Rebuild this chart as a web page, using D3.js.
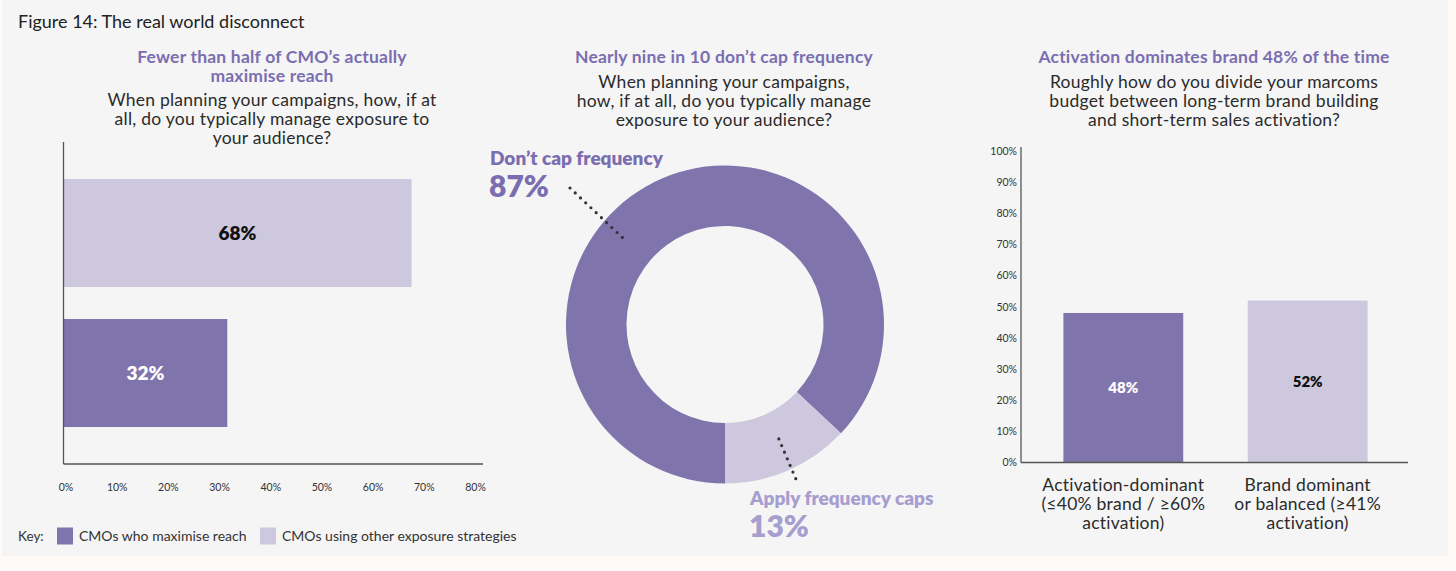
<!DOCTYPE html>
<html>
<head>
<meta charset="utf-8">
<script src="https://cdn.jsdelivr.net/npm/d3@7"></script>
<style>
  body { margin: 0; background: #fdfaf7; }
  text { font-family: Lato, "Open Sans", sans-serif; }
  .title { font-weight: 700; fill: #7a6eb1; font-size: 17.5px; letter-spacing: 0.2px; }
  .question { fill: #2b2b2b; font-size: 17.5px; font-weight: 400; letter-spacing: 0.25px; }
  .tick-label { fill: #333; font-size: 10.5px; }
  .axis-line { stroke: #555; stroke-width: 1.3; }
</style>
</head>
<body>
<script>
const WIDTH = 1456
const HEIGHT = 571
const DARK = "#7f74ab"
const LIGHT = "#cdc8de"

// left chart: exposure management
const reachCategories = ["CMOs using other exposure strategies", "CMOs who maximise reach"]
const reachValues = [68, 32]
const reachTicks = [0, 10, 20, 30, 40, 50, 60, 70, 80]

// middle chart: frequency caps
const capLabels = ["Don\u2019t cap frequency", "Apply frequency caps"]
const capValues = [87, 13]

// right chart: brand vs activation budget
const budgetCategories = [
    ["Activation-dominant", "(\u226440% brand / \u226560%", "activation)"],
    ["Brand dominant", "or balanced (\u226541%", "activation)"]
]
const budgetValues = [48, 52]
const budgetTicks = [0, 10, 20, 30, 40, 50, 60, 70, 80, 90, 100]

var svg = d3.select("body").append("svg")
    .attr("width", WIDTH)
    .attr("height", HEIGHT);

svg.append("rect")
    .attr("x", 2).attr("y", 0)
    .attr("width", 1446).attr("height", 556)
    .attr("fill", "#f5f5f5");

svg.append("text")
    .attr("x", 18).attr("y", 28)
    .style("font-size", "18px")
    .style("fill", "#222")
    .text("Figure 14: The real world disconnect");

var addHeading = function(cx, titleLines, questionLines, titleY, questionY){
    titleLines.forEach(function(t, i){
        svg.append("text").classed("title", true)
            .attr("x", cx).attr("y", titleY + i * 19)
            .attr("text-anchor", "middle")
            .text(t);
    });
    questionLines.forEach(function(t, i){
        svg.append("text").classed("question", true)
            .attr("x", cx).attr("y", questionY + i * 19)
            .attr("text-anchor", "middle")
            .text(t);
    });
}

var createReachChart = function(){
    addHeading(272, ["Fewer than half of CMO\u2019s actually", "maximise reach"],
        ["When planning your campaigns, how, if at", "all, do you typically manage exposure to", "your audience?"], 63, 106);

    var x = d3.scaleLinear().domain([0, 80]).range([63.5, 473]);
    var y = d3.scaleBand().domain(reachCategories).range([142, 464]).paddingInner(0.229).paddingOuter(0.264);
    var colour = d3.scaleOrdinal().domain(reachCategories).range([LIGHT, DARK]);

    var g = svg.append("g");
    g.selectAll("rect.bar").data(reachValues).join("rect")
        .attr("x", x(0))
        .attr("y", function(d, i){ return y(reachCategories[i]); })
        .attr("width", function(d){ return x(d) - x(0); })
        .attr("height", y.bandwidth())
        .attr("fill", function(d, i){ return colour(reachCategories[i]); });

    g.selectAll("text.val").data(reachValues).join("text")
        .attr("x", function(d){ return (x(0) + x(d)) / 2; })
        .attr("y", function(d, i){ return y(reachCategories[i]) + y.bandwidth() / 2; })
        .attr("dy", "0.35em")
        .attr("text-anchor", "middle")
        .style("font-weight", 800)
        .style("font-size", "19px")
        .style("fill", function(d, i){ return i == 0 ? "#111" : "#fff"; })
        .text(function(d){ return d + "%"; });

    g.append("line").classed("axis-line", true)
        .attr("x1", 63.5).attr("x2", 63.5).attr("y1", 142).attr("y2", 464);
    g.append("line").classed("axis-line", true)
        .attr("x1", 63.5).attr("x2", 483).attr("y1", 464).attr("y2", 464);

    var axis = d3.axisBottom(x).tickValues(reachTicks).tickSize(0).tickPadding(0)
        .tickFormat(function(d){ return d + "%"; });
    var ax = g.append("g").attr("transform", "translate(2,484)").call(axis);
    ax.select(".domain").remove();
    ax.selectAll("text").classed("tick-label", true).attr("font-family", null).attr("font-size", null);

    // key
    var key = svg.append("g").attr("transform", "translate(0,536)");
    key.append("text").attr("x", 18).attr("dy", "0.35em").style("font-size", "13.5px").style("fill", "#333").text("Key:");
    var keyItems = [[reachCategories[1], 57, 79], [reachCategories[0], 260, 282]];
    keyItems.forEach(function(k){
        key.append("rect").attr("x", k[1]).attr("y", -8.5).attr("width", 16).attr("height", 17).attr("fill", colour(k[0]));
        key.append("text").attr("x", k[2]).attr("dy", "0.35em").style("font-size", "14px").style("fill", "#333").text(k[0]);
    });
}

var createCapChart = function(){
    addHeading(724, ["Nearly nine in 10 don\u2019t cap frequency"],
        ["When planning your campaigns,", "how, if at all, do you typically manage", "exposure to your audience?"], 63, 88);

    var cx = 725, cy = 324.5, outer = 159, inner = 98.5;
    var pie = d3.pie().sort(null).startAngle(-Math.PI).endAngle(Math.PI);
    var arc = d3.arc().innerRadius(inner).outerRadius(outer);
    var arcs = pie(capValues);
    var g = svg.append("g").attr("transform", "translate(" + cx + "," + cy + ")");
    g.selectAll("path").data(arcs).join("path")
        .attr("d", arc)
        .attr("fill", function(d, i){ return i == 0 ? DARK : LIGHT; });

    // leader lines
    var dotted = function(x1, y1, x2, y2){
        svg.append("line")
            .attr("x1", x1).attr("y1", y1).attr("x2", x2).attr("y2", y2)
            .attr("stroke", "#333").attr("stroke-width", 3.2)
            .attr("stroke-linecap", "round").attr("stroke-dasharray", "0,7.2");
    }
    dotted(570, 188, 624, 239);
    var c = d3.arc().innerRadius(128).outerRadius(128).centroid(arcs[1]);
    dotted(cx + c[0] + 3, cy + c[1] - 3, 798, 484);

    // callouts: label and value
    var callout = function(x, y, label, value, colour){
        svg.append("text").attr("x", x).attr("y", y)
            .style("font-weight", 800).style("fill", colour)
            .style("font-size", "19px").text(label);
        svg.append("text").attr("x", x - 1).attr("y", y + 32)
            .style("font-weight", 800).style("fill", colour)
            .style("font-size", "30px").text(value + "%");
    }
    callout(490, 164.5, capLabels[0], capValues[0], "#7a6eb1");
    callout(750, 505, capLabels[1], capValues[1], "#a69ece");
}

var createBudgetChart = function(){
    addHeading(1214, ["Activation dominates brand 48% of the time"],
        ["Roughly how do you divide your marcoms", "budget between long-term brand building", "and short-term sales activation?"], 63, 88);

    var names = budgetCategories.map(function(d){ return d[0]; });
    var x = d3.scaleBand().domain(names).range([1021, 1410]).paddingInner(0.35).paddingOuter(0.23);
    var y = d3.scaleLinear().domain([0, 100]).range([462.5, 151]);

    var g = svg.append("g");
    g.selectAll("rect").data(budgetValues).join("rect")
        .attr("x", function(d, i){ return x(names[i]); })
        .attr("y", function(d){ return y(d); })
        .attr("width", x.bandwidth())
        .attr("height", function(d){ return y(0) - y(d); })
        .attr("fill", function(d, i){ return i == 0 ? DARK : LIGHT; });

    g.selectAll("text.val").data(budgetValues).join("text")
        .attr("x", function(d, i){ return x(names[i]) + x.bandwidth() / 2; })
        .attr("y", function(d){ return (y(0) + y(d)) / 2; })
        .attr("dy", "0.35em")
        .attr("text-anchor", "middle")
        .style("font-weight", 800)
        .style("font-size", "15px")
        .style("fill", function(d, i){ return i == 0 ? "#fff" : "#111"; })
        .text(function(d){ return d + "%"; });

    g.append("line").classed("axis-line", true)
        .attr("x1", 1021).attr("x2", 1021).attr("y1", 147).attr("y2", 462.5);
    g.append("line").classed("axis-line", true)
        .attr("x1", 1021).attr("x2", 1408).attr("y1", 462.5).attr("y2", 462.5);

    var axis = d3.axisLeft(y).tickValues(budgetTicks).tickSize(0).tickPadding(3)
        .tickFormat(function(d){ return d + "%"; });
    var ay = g.append("g").attr("transform", "translate(1020,0)").call(axis);
    ay.select(".domain").remove();
    ay.selectAll("text").classed("tick-label", true).attr("font-family", null).attr("font-size", null);

    budgetCategories.forEach(function(lines, i){
        lines.forEach(function(t, j){
            g.append("text").classed("question", true)
                .attr("x", x(names[i]) + x.bandwidth() / 2)
                .attr("y", 491 + j * 19)
                .attr("text-anchor", "middle")
                .text(t);
        });
    });
}

createReachChart();
createCapChart();
createBudgetChart();
</script>
</body>
</html>
